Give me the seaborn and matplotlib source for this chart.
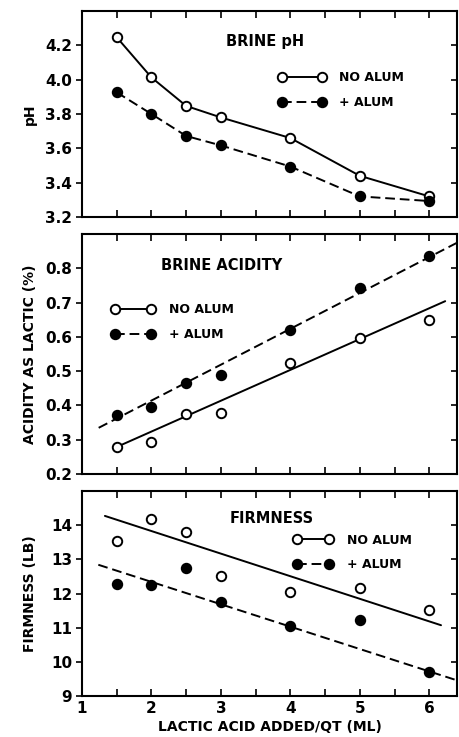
import numpy as np
import pandas as pd
import matplotlib
matplotlib.use("Agg")
import matplotlib.pyplot as plt
from matplotlib.lines import Line2D
from matplotlib.ticker import MultipleLocator
import seaborn as sns

# ---------------- data ----------------
lactic_ml = [1.5, 2, 2.5, 3, 4, 5, 6]
treatments = ["NO ALUM", "+ ALUM"]

ph_no_alum = [4.247, 4.013, 3.847, 3.78, 3.66, 3.44, 3.32]
ph_alum = [3.926, 3.80, 3.672, 3.617, 3.494, 3.32, 3.293]

acid_no_alum = [0.279, 0.292, 0.375, 0.377, 0.524, 0.596, 0.648]
acid_alum = [0.373, 0.395, 0.464, 0.489, 0.620, 0.743, 0.835]

firm_no_alum = [13.53, 14.18, 13.79, 12.52, 12.03, 12.17, 11.52]
firm_alum = [12.28, 12.24, 12.74, 11.75, 11.04, 11.23, 9.69]

# fitted lines: slope, intercept, x-range
acid_fit_slope = [0.0899, 0.1046]
acid_fit_intercept = [0.144, 0.205]
acid_fit_xrange = [(1.5, 6.23), (1.24, 6.42)]

firm_fit_slope = [-0.661, -0.655]
firm_fit_intercept = [15.15, 13.65]
firm_fit_xrange = [(1.33, 6.17), (1.235, 6.42)]

ph_ticks = [3.2, 3.4, 3.6, 3.8, 4.0, 4.2]
acid_ticks = [0.2, 0.3, 0.4, 0.5, 0.6, 0.7, 0.8]
firm_ticks = [9, 10, 11, 12, 13, 14]
x_ticks = [1, 2, 3, 4, 5, 6]

# ---------------- style ----------------
sns.set_theme(style="ticks")
plt.rcParams["font.family"] = ["DejaVu Sans"]
plt.rcParams["font.weight"] = "bold"
for k in ["text.color", "axes.labelcolor", "xtick.color", "ytick.color", "axes.edgecolor"]:
    plt.rcParams[k] = "black"

W, H = 459, 737
fig = plt.figure(figsize=(W / 100, H / 100), dpi=100)

def axrect(left, top, right, bottom):
    return [left / W, 1 - bottom / H, (right - left) / W, (bottom - top) / H]

ax1 = fig.add_axes(axrect(82, 11, 457, 217))
ax2 = fig.add_axes(axrect(82, 234, 457, 474))
ax3 = fig.add_axes(axrect(82, 491, 457, 696))

XLIM = (1, 6.40)
LW = 1.4
MS = 6.8
styles = {
    "NO ALUM": dict(ls="-", mfc="white"),
    "+ ALUM": dict(ls=(0, (5, 2.5)), mfc="black"),
}

def frame(ax, ylim, yticks, ylabel):
    ax.set_xlim(*XLIM)
    ax.set_ylim(*ylim)
    ax.set_xticks(x_ticks)
    ax.xaxis.set_minor_locator(MultipleLocator(0.5))
    ax.tick_params(axis="x", which="both", direction="in", top=True, bottom=True,
                   length=5, width=1.2, labelsize=11, colors="black")
    ax.set_yticks(yticks)
    ax.tick_params(axis="y", direction="out", length=4, width=1.2, labelsize=11, pad=3,
                   colors="black")
    for lab in ax.get_yticklabels() + ax.get_xticklabels():
        lab.set_fontweight("bold")
    sec = ax.secondary_yaxis("right")
    sec.set_yticks(yticks)
    sec.tick_params(direction="in", length=4, width=1.2, labelright=False, colors="black")
    sec.spines["right"].set_visible(False)
    for s in ax.spines.values():
        s.set_linewidth(1.5)
        s.set_color("black")
    ax.set_ylabel(ylabel, fontsize=10, fontweight="bold", color="black")
    ax.yaxis.set_label_coords(-0.12, 0.5)
    ax.set_xlabel("")

def legend(ax, x, y, hl):
    handles = [Line2D([], [], color="black", lw=LW, marker="o", ms=MS, mec="black",
                      mew=1.4, ls=styles[t]["ls"], mfc=styles[t]["mfc"]) for t in treatments]
    ax.legend(handles, treatments, numpoints=2, loc="center left", bbox_to_anchor=(x, y),
              frameon=False, borderpad=0, borderaxespad=0, handlelength=hl,
              handletextpad=1.1, labelspacing=0.95, labelcolor="black",
              prop=dict(size=9, weight="bold"))

def title(ax, x, y, s):
    ax.text(x, y, s, transform=ax.transAxes, ha="center", va="center",
            fontsize=10.5, fontweight="bold", color="black")

# ---------- panel 1: brine pH ----------
df_ph = pd.DataFrame({
    "x": lactic_ml * 2,
    "y": ph_no_alum + ph_alum,
    "t": [treatments[0]] * 7 + [treatments[1]] * 7,
})
for t in treatments:
    sub = df_ph[df_ph.t == t]
    sns.lineplot(data=sub, x="x", y="y", ax=ax1, color="black", lw=LW,
                 marker="o", markersize=MS, markeredgecolor="black", markeredgewidth=1.4,
                 markerfacecolor=styles[t]["mfc"], linestyle=styles[t]["ls"], zorder=3)
frame(ax1, (3.2, 4.4), ph_ticks, "pH")
ax1.tick_params(axis="x", labelbottom=False)
legend(ax1, 0.523, 0.615, 3.8)
title(ax1, 0.488, 0.851, "BRINE pH")

# ---------- panels 2 & 3: points plus fitted lines ----------
def fit_panel(ax, vals_a, vals_b, slopes, intercepts, xranges):
    df = pd.DataFrame({
        "x": lactic_ml * 2,
        "y": vals_a + vals_b,
        "t": [treatments[0]] * 7 + [treatments[1]] * 7,
    })
    for i, t in enumerate(treatments):
        xr = np.array(xranges[i])
        line = pd.DataFrame({"x": xr, "y": intercepts[i] + slopes[i] * xr})
        sns.lineplot(data=line, x="x", y="y", ax=ax, color="black", lw=LW,
                     linestyle=styles[t]["ls"], zorder=2)
        sub = df[df.t == t]
        ax.plot(sub.x, sub.y, ls="none", marker="o", ms=MS, mec="black", mew=1.4,
                mfc=styles[t]["mfc"], zorder=3)

fit_panel(ax2, acid_no_alum, acid_alum, acid_fit_slope, acid_fit_intercept, acid_fit_xrange)
frame(ax2, (0.2, 0.9), acid_ticks, "ACIDITY AS LACTIC (%)")
ax2.tick_params(axis="x", labelbottom=False)
legend(ax2, 0.078, 0.633, 3.5)
title(ax2, 0.373, 0.867, "BRINE ACIDITY")

fit_panel(ax3, firm_no_alum, firm_alum, firm_fit_slope, firm_fit_intercept, firm_fit_xrange)
frame(ax3, (9, 15), firm_ticks, "FIRMNESS (LB)")
legend(ax3, 0.563, 0.70, 3.2)
title(ax3, 0.507, 0.868, "FIRMNESS")
ax3.set_xlabel("LACTIC ACID ADDED/QT (ML)", fontsize=10, fontweight="bold", labelpad=3,
               color="black")

fig.savefig("out.png", dpi=100, facecolor="white")
